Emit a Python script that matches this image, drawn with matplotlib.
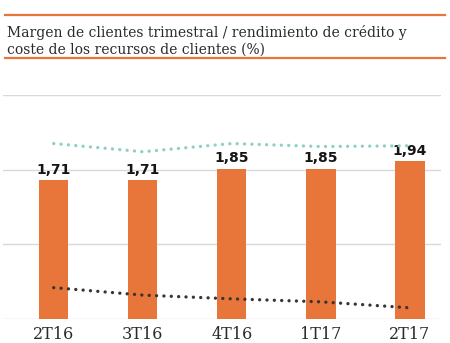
import matplotlib
matplotlib.use("Agg")
import numpy as np
from matplotlib import pyplot as plt
from matplotlib.lines import Line2D

# data
quarters = ["2T16", "3T16", "4T16", "1T17", "2T17"]
margin = [1.71, 1.71, 1.85, 1.85, 1.94]
margin_labels = ["1,71", "1,71", "1,85", "1,85", "1,94"]
loan_yield = [2.35, 2.24, 2.35, 2.31, 2.32]
deposit_cost = [0.42, 0.32, 0.27, 0.23, 0.15]

orange = "#E8763A"
teal = "#8ECFC6"
dark = "#3a3431"
grid = "#d9d9d9"
txt = "#2b2b2b"

W, H = 450, 343
fig = plt.figure(figsize=(W / 100, H / 100), dpi=100)

# axes box in pixels: x 3..441, y 95..319 (from top)
ax = fig.add_axes([3 / W, 1 - 319 / H, (441 - 3) / W, (319 - 95) / H])
x = np.arange(len(quarters))

# gridlines belong to the line scale 0..3
ax.set_ylim(0, 3)
ax.set_xlim(-0.57, 4.35)
for v in [0, 1, 2, 3]:
    ax.axhline(v, color=grid, lw=1.0, zorder=0)
for s in ax.spines.values():
    s.set_visible(False)
ax.set_yticks([])
ax.set_xticks(x)
ax.set_xticklabels(quarters, family="DejaVu Serif", fontsize=11.5, color=txt)
ax.tick_params(axis="x", length=0, pad=5)

# bars on their own scale
axb = ax.twinx()
axb.set_ylim(0, 2.755)
axb.set_xlim(ax.get_xlim())
axb.axis("off")
bars = axb.bar(x, margin, width=0.33, color=orange, zorder=2)
for xi, v, lab in zip(x, margin, margin_labels):
    axb.text(xi, v + 0.04, lab, ha="center", va="bottom", fontsize=10,
             fontweight="bold", color="#151515")

# dotted lines on top
axl = ax.twinx()
axl.set_ylim(0, 3)
axl.set_xlim(ax.get_xlim())
axl.axis("off")
axl.plot(x, loan_yield, color=teal, lw=2.4, linestyle=(0, (0.01, 2.2)),
         dash_capstyle="round", zorder=3)
axl.plot(x, deposit_cost, color=dark, lw=2.4, linestyle=(0, (0.01, 2.2)),
         dash_capstyle="round", zorder=3)

# title block with orange rules
fig.add_artist(Line2D([5 / W, 445 / W], [1 - 15 / H, 1 - 15 / H],
                      color=orange, lw=1.6))
fig.add_artist(Line2D([5 / W, 445 / W], [1 - 57.5 / H, 1 - 57.5 / H],
                      color=orange, lw=1.6))
fig.text(7 / W, 1 - 36.5 / H, "Margen de clientes trimestral / rendimiento de crédito y",
         family="DejaVu Serif", fontsize=10, color=txt, va="baseline")
fig.text(7 / W, 1 - 53.5 / H, "coste de los recursos de clientes (%)",
         family="DejaVu Serif", fontsize=10, color=txt, va="baseline")

fig.savefig("out.png", dpi=100)
